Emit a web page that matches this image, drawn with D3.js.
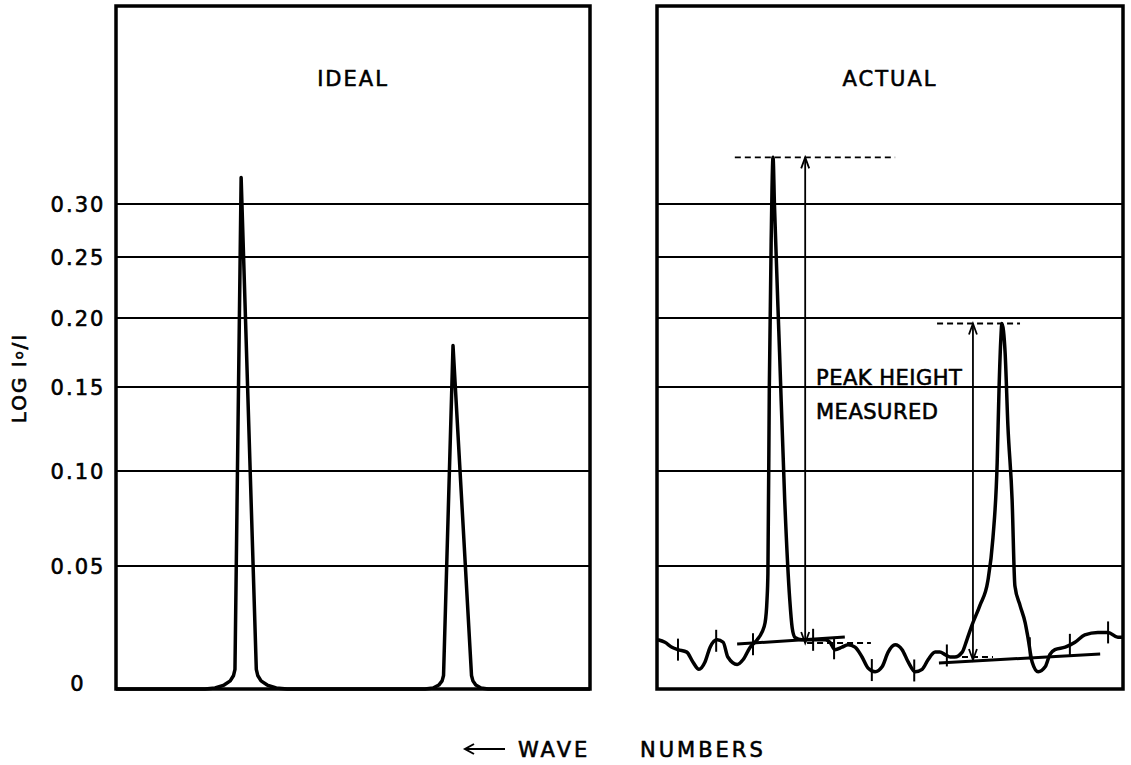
<!DOCTYPE html>
<html>
<head>
<meta charset="utf-8">
<script src="https://cdn.jsdelivr.net/npm/d3@7"></script>
<style>
  body { margin: 0; background: #fff; }
  text { font-family: "DejaVu Sans", sans-serif; fill: #000; stroke: #000; stroke-width: 0.6px; }
</style>
</head>
<body>
<svg id="chart" width="1131" height="765"></svg>
<script>
// chart paper levels of log I0/I
const levels = [0, 0.05, 0.10, 0.15, 0.20, 0.25, 0.30];
const levelLabels = ["0", "0.05", "0.10", "0.15", "0.20", "0.25", "0.30"];

// ideal trace: position across the panel (0-100, wave numbers decreasing) and absorbance
const idealX = [0, 18.8, 20.9, 22.8, 24.1, 24.8, 25.1, 26.4, 29.6, 29.9, 30.6, 31.9, 33.8, 36.1,
  65.2, 66.9, 68.1, 68.8, 69.1, 71.1, 75.0, 75.3, 75.9, 77.0, 78.5, 80.6, 100];
const idealY = [0, 0, 0.0004, 0.0016, 0.0033, 0.0055, 0.008, 0.325, 0.008, 0.0055, 0.0033, 0.0016, 0.0004, 0,
  0, 0.0004, 0.0016, 0.0033, 0.0055, 0.18, 0.0055, 0.0033, 0.0016, 0.0004, 0, 0, 0];

// actual (noisy) trace
const actualX = [0.2, 1.7, 3.2, 4.5, 6.4, 7.7, 9.0, 10.3, 11.4, 12.9, 14.2, 15.2, 17.2, 18.5, 20.0,
  21.5, 22.5, 23.2, 23.6, 23.8, 24.1, 24.5, 24.9, 25.2, 26.3, 27.4, 28.5, 29.0, 29.6, 31.1,
  32.4, 34.5, 36.1, 37.1, 38.2, 39.7, 41.0, 42.5, 44.0, 45.3, 46.8, 48.3, 49.6, 51.1, 52.6,
  53.9, 55.4, 56.9, 58.2, 59.7, 60.7, 61.8, 62.9, 63.9, 65.5, 66.5, 67.6, 69.3, 71.0, 72.1,
  73.0, 73.4, 73.8, 74.0, 74.7, 75.3, 76.2, 76.8, 77.9, 79.0, 79.6, 80.5, 81.8, 83.3, 84.3,
  85.4, 87.6, 89.7, 91.8, 94.6, 96.8, 98.9, 100];
const actualY = [0.020, 0.019, 0.017, 0.016, 0.015, 0.011, 0.008, 0.011, 0.017, 0.020, 0.019, 0.013, 0.010, 0.012, 0.017,
  0.020, 0.023, 0.027, 0.036, 0.047, 0.149, 0.265, 0.344, 0.300, 0.175, 0.085, 0.036, 0.025, 0.021, 0.020,
  0.020, 0.020, 0.020, 0.019, 0.016, 0.017, 0.018, 0.017, 0.013, 0.0085, 0.007, 0.009, 0.015, 0.018, 0.016,
  0.011, 0.007, 0.008, 0.012, 0.015, 0.015, 0.014, 0.013, 0.013, 0.015, 0.020, 0.026, 0.034, 0.044, 0.065,
  0.105, 0.149, 0.186, 0.196, 0.175, 0.127, 0.085, 0.042, 0.034, 0.027, 0.021, 0.011, 0.007, 0.009, 0.014,
  0.016, 0.017, 0.019, 0.022, 0.023, 0.023, 0.021, 0.021];

// small marks across the actual trace
const markX = [4.5, 12.7, 20.6, 33.5, 38.0, 46.1, 55.2, 62.2, 80.0, 88.6, 96.8];

// peak height construction: [x0, x1, level]
const topDashes = [[16.7, 51.1, 0.344], [60.1, 77.9, 0.196]];
const baseDashes = [[32.2, 45.9, 0.0187], [63.3, 72.1, 0.013]];
// drawn baselines: [x0, y0, x1, y1]
const baseLines = [[17.2, 0.0183, 40.3, 0.0211], [60.5, 0.0106, 95.1, 0.0142]];
// double arrows: [x, top, bottom]
const heightArrows = [[31.8, 0.344, 0.0187], [67.8, 0.196, 0.0118]];

const svg = d3.select("#chart");
svg.append("rect").attr("width", 1131).attr("height", 765).attr("fill", "#fff");

// the paper is ruled unevenly, so map each level to its ruled line
const y = d3.scaleLinear().domain(levels).range([689, 566, 471, 387, 318, 257, 204]);

const panels = [
  { name: "IDEAL", x: d3.scaleLinear().domain([0, 100]).range([116, 590]) },
  { name: "ACTUAL", x: d3.scaleLinear().domain([0, 100]).range([657, 1123]) }
];

panels.forEach(p => {
  const [x0, x1] = p.x.range();
  const g = svg.append("g");
  g.selectAll("line.grid")
    .data(levels.slice(1))
    .enter().append("line")
      .attr("x1", x0).attr("x2", x1)
      .attr("y1", d => y(d)).attr("y2", d => y(d))
      .attr("stroke", "#000").attr("stroke-width", 2);
  g.append("rect")
    .attr("x", x0).attr("y", 6)
    .attr("width", x1 - x0).attr("height", y(0) - 6)
    .attr("fill", "none").attr("stroke", "#000").attr("stroke-width", 3.5);
  g.append("text")
    .attr("x", (x0 + x1) / 2).attr("y", 86)
    .attr("text-anchor", "middle")
    .attr("font-size", 21).attr("letter-spacing", 2)
    .text(p.name);
});

// y labels
svg.selectAll("text.lab")
  .data(levels)
  .enter().append("text")
    .attr("x", 78)
    .attr("y", d => d === 0 ? 683 : y(d))
    .attr("dy", "0.36em")
    .attr("text-anchor", "middle")
    .attr("font-size", 21).attr("letter-spacing", 2)
    .text((d, i) => levelLabels[i]);

const yTitle = svg.append("text")
  .attr("transform", "translate(26,378) rotate(-90)")
  .attr("text-anchor", "middle")
  .attr("font-size", 20).attr("letter-spacing", 2);
yTitle.append("tspan").text("LOG  I");
yTitle.append("tspan").attr("font-size", 13).attr("dy", -3).text("o");
yTitle.append("tspan").attr("dy", 3).text("/I");

// ideal trace
const xi = panels[0].x, xa = panels[1].x;
svg.append("path")
  .datum(idealX.map((v, i) => [v, idealY[i]]))
  .attr("fill", "none").attr("stroke", "#000").attr("stroke-width", 3.5)
  .attr("stroke-linejoin", "round")
  .attr("d", d3.line().x(d => xi(d[0])).y(d => y(d[1])));

// actual trace
const actual = actualX.map((v, i) => [v, actualY[i]]);
svg.append("path")
  .datum(actual)
  .attr("fill", "none").attr("stroke", "#000").attr("stroke-width", 3.5)
  .attr("stroke-linejoin", "round")
  .attr("d", d3.line().curve(d3.curveMonotoneX).x(d => xa(d[0])).y(d => y(d[1])));

// marks on the trace
const bis = d3.bisector(d => d[0]).left;
function traceAt(u) {
  const i = Math.max(1, bis(actual, u));
  const a = actual[i - 1], b = actual[i];
  return a[1] + (b[1] - a[1]) * (u - a[0]) / (b[0] - a[0]);
}
svg.selectAll("line.mark")
  .data(markX)
  .enter().append("line")
    .attr("x1", d => xa(d)).attr("x2", d => xa(d))
    .attr("y1", d => y(traceAt(d)) - 11).attr("y2", d => y(traceAt(d)) + 11)
    .attr("stroke", "#000").attr("stroke-width", 2);

// construction lines
svg.selectAll("line.dash")
  .data(topDashes.concat(baseDashes))
  .enter().append("line")
    .attr("x1", d => xa(d[0])).attr("x2", d => xa(d[1]))
    .attr("y1", d => y(d[2])).attr("y2", d => y(d[2]))
    .attr("stroke", "#000").attr("stroke-width", 1.8).attr("stroke-dasharray", "6,4");

svg.selectAll("line.base")
  .data(baseLines)
  .enter().append("line")
    .attr("x1", d => xa(d[0])).attr("y1", d => y(d[1]))
    .attr("x2", d => xa(d[2])).attr("y2", d => y(d[3]))
    .attr("stroke", "#000").attr("stroke-width", 3);

const arr = svg.selectAll("g.arrow")
  .data(heightArrows)
  .enter().append("g");
arr.append("line")
  .attr("x1", d => xa(d[0])).attr("x2", d => xa(d[0]))
  .attr("y1", d => y(d[1])).attr("y2", d => y(d[2]))
  .attr("stroke", "#000").attr("stroke-width", 1.8);
arr.append("path")
  .attr("fill", "none").attr("stroke", "#000").attr("stroke-width", 1.8)
  .attr("d", d => {
    const x = xa(d[0]), t = y(d[1]), b = y(d[2]);
    return `M${x - 4},${t + 11}L${x},${t}L${x + 4},${t + 11}` +
           `M${x - 4},${b - 11}L${x},${b}L${x + 4},${b - 11}`;
  });

svg.append("text").attr("x", 816).attr("y", 385)
  .attr("font-size", 21).attr("letter-spacing", 0.5).text("PEAK HEIGHT");
svg.append("text").attr("x", 816).attr("y", 419)
  .attr("font-size", 21).attr("letter-spacing", 0.5).text("MEASURED");

// x axis caption
svg.append("path")
  .attr("fill", "none").attr("stroke", "#000").attr("stroke-width", 2)
  .attr("d", "M505,749L465,749M474,744L465,749L474,754");
svg.append("text").attr("x", 518).attr("y", 757)
  .attr("font-size", 21).attr("letter-spacing", 3).text("WAVE");
svg.append("text").attr("x", 640).attr("y", 757)
  .attr("font-size", 21).attr("letter-spacing", 3).text("NUMBERS");
</script>
</body>
</html>
